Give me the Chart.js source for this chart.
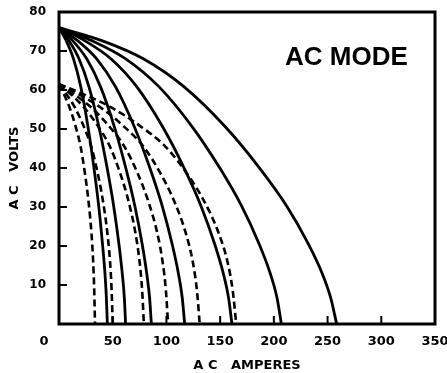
<!DOCTYPE html>
<html><head><meta charset="utf-8">
<script src="https://cdn.jsdelivr.net/npm/chart.js@4/dist/chart.umd.min.js"></script>
<style>html,body{margin:0;padding:0;background:#fff}</style>
</head><body>
<canvas id="c" width="447" height="373"></canvas>
<script>
// Axis ticks
const xTicks = [0, 50, 100, 150, 200, 250, 300, 350];
const yTicks = [10, 20, 30, 40, 50, 60, 70, 80];

// Solid curves: voltage levels read along each curve, and the current of each curve at those levels
const solidVolts = [76, 72.6, 68, 60.8, 50.5, 40.3, 30.4, 20.5, 12.9, 6.8, 0];
const solidA1 = [0, 6.8, 13.5, 20.3, 27, 32.4, 36.9, 40.5, 42.8, 44.1, 45];
const solidA2 = [0, 9.3, 18.6, 27.9, 37.2, 44.6, 50.8, 55.8, 58.9, 60.8, 62];
const solidA3 = [0, 12.9, 25.8, 38.7, 51.6, 61.9, 70.5, 77.4, 81.7, 84.3, 86];
const solidA4 = [0, 17.6, 35.1, 52.7, 70.2, 84.2, 95.9, 105.3, 111.2, 114.7, 117];
const solidA5 = [0, 24.2, 48.3, 72.5, 96.6, 115.9, 132, 144.9, 153, 157.8, 161];
const solidA6 = [0, 31, 62.1, 93.2, 124.2, 149, 169.7, 186.3, 196.7, 202.9, 207];
const solidA7 = [0, 40.5, 78.5, 116.5, 155, 185.8, 211.6, 232.2, 245.1, 252.8, 258.5];

// Dashed curves
const dashVolts = [61.5, 58.7, 55.4, 51, 45.5, 38.7, 31.4, 23.4, 16, 8.6, 0];
const dashA1 = [0, 5, 10, 15.1, 20.1, 24.1, 27.5, 30.2, 31.8, 32.8, 33.5];
const dashA2 = [0, 7.5, 15, 22.5, 30, 36, 41, 45, 47.5, 49, 50];
const dashA3 = [0, 11.9, 23.7, 35.6, 47.4, 56.9, 64.8, 71.1, 75, 77.4, 79];
const dashA4 = [0, 15.2, 30.5, 45.7, 60.9, 73.1, 83.2, 91.4, 96.4, 99.5, 101.5];
const dashA5 = [0, 19.7, 39.3, 59, 78.6, 94.3, 107.4, 117.9, 124.5, 128.4, 131];
const dashA6 = [0, 24.8, 49.5, 74.3, 99, 118.8, 135.3, 148.5, 156.8, 161.7, 165];

const solidSets = [solidA1, solidA2, solidA3, solidA4, solidA5, solidA6, solidA7];
const dashSets = [dashA1, dashA2, dashA3, dashA4, dashA5, dashA6];

const datasets = [];
solidSets.forEach(a => datasets.push({
  data: a.map((x, i) => ({x: x, y: solidVolts[i]})),
  borderColor: '#000', borderWidth: 2.8, pointRadius: 0, fill: false,
  cubicInterpolationMode: 'monotone'
}));
dashSets.forEach(a => datasets.push({
  data: a.map((x, i) => ({x: x, y: dashVolts[i]})),
  borderColor: '#000', borderWidth: 2.6, borderDash: [7, 4], pointRadius: 0, fill: false,
  cubicInterpolationMode: 'monotone'
}));

const yFont = {family: '"DejaVu Sans", sans-serif', size: 12, weight: 'bold'};
const xFont = {family: '"DejaVu Sans", sans-serif', size: 13, weight: 'bold'};
const titleFont = {family: '"DejaVu Sans", sans-serif', size: 13, weight: 'bold'};

const framePlugin = {
  id: 'frame',
  afterDraw(chart) {
    const ctx = chart.ctx, a = chart.chartArea;
    const xs = chart.scales.x, ys = chart.scales.y;
    ctx.save();
    ctx.strokeStyle = '#000';
    ctx.lineWidth = 3;
    ctx.strokeRect(a.left, a.top, a.right - a.left, a.bottom - a.top);
    ctx.lineWidth = 2;
    ctx.beginPath();
    xTicks.forEach(v => {
      if (v === 0 || v === 350) return;
      const px = xs.getPixelForValue(v);
      ctx.moveTo(px, a.bottom); ctx.lineTo(px, a.bottom - 8);
    });
    yTicks.forEach(v => {
      if (v === 80) return;
      const py = ys.getPixelForValue(v);
      ctx.moveTo(a.left, py); ctx.lineTo(a.left + 8, py);
    });
    ctx.stroke();
    ctx.fillStyle = '#000';
    // corner label "0" sits left of the axis in the original
    ctx.font = 'bold 13px "DejaVu Sans", sans-serif';
    ctx.textAlign = 'center';
    ctx.textBaseline = 'middle';
    ctx.fillText(String(xTicks[0]), xs.getPixelForValue(xTicks[0]) - 15, a.bottom + 18);
    ctx.font = 'bold 26px "Liberation Sans", Arial, sans-serif';
    ctx.textAlign = 'left';
    ctx.textBaseline = 'alphabetic';
    ctx.fillText('AC MODE', 285, 65);
    ctx.restore();
  }
};

new Chart(document.getElementById('c'), {
  type: 'line',
  data: {datasets: datasets},
  plugins: [framePlugin],
  options: {
    responsive: false,
    animation: false,
    events: [],
    layout: {padding: {left: 0, top: 12, right: 12, bottom: 0}},
    plugins: {legend: {display: false}, tooltip: {enabled: false}},
    scales: {
      x: {
        type: 'linear', min: 0, max: 350,
        afterBuildTicks: s => { s.ticks = xTicks.map(v => ({value: v})); },
        afterFit: s => { s.height = 49; s.paddingLeft = 0; s.paddingRight = 0; },
        grid: {display: false, drawTicks: false},
        border: {display: false},
        ticks: {color: '#000', font: xFont, padding: 10, maxRotation: 0, autoSkip: false,
                callback: v => (v === 0 ? '' : String(v))},
        title: {display: true, text: 'A C   AMPERES', color: '#000', font: titleFont, padding: {top: 3, bottom: 0}}
      },
      y: {
        type: 'linear', min: 0, max: 80,
        afterBuildTicks: s => { s.ticks = yTicks.map(v => ({value: v})); },
        afterFit: s => { s.width = 59; s.paddingTop = 0; s.paddingBottom = 0; },
        grid: {display: false, drawTicks: false},
        border: {display: false},
        ticks: {color: '#000', font: yFont, padding: 13, autoSkip: false},
        title: {display: true, text: 'A C   VOLTS', color: '#000', font: titleFont, padding: {top: 7, bottom: 0}}
      }
    }
  }
});
</script>
</body></html>
